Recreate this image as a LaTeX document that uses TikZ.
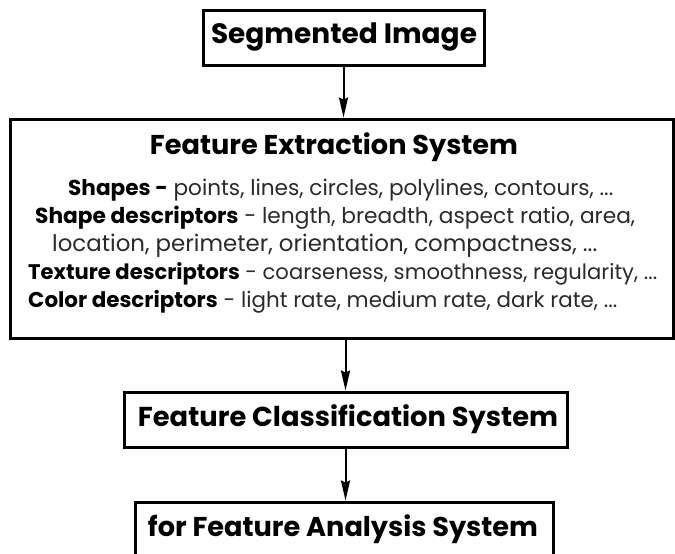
\documentclass[tikz,border=0pt]{standalone}
\usepackage{fontspec}
\setmainfont{Poppins}
\usetikzlibrary{arrows.meta}
\definecolor{bodytext}{HTML}{2A2A2A}
\newcommand{\fitw}[2]{\resizebox{#1}{!}{#2}}
\begin{document}
\begin{tikzpicture}[x=1pt,y=-1pt,
  box/.style={draw, line width=3pt, inner sep=0pt},
  label/.style={inner sep=0pt, text=black},
  line/.style={inner sep=0pt, anchor=west, text=bodytext},
  flow/.style={line width=2pt, -{Stealth[length=20pt,width=9pt,inset=2pt]}}]
\useasboundingbox (0,0) rectangle (675,554);
\fill[white] (0,0) rectangle (675,554);

% boxes
\node[box, minimum width=281pt, minimum height=55pt] (seg) at (343.5,37.5) {};
\node[box, minimum width=663pt, minimum height=219pt] (fes) at (341.5,228.5) {};
\node[box, minimum width=443pt, minimum height=55pt] (fcs) at (345.5,419.5) {};
\node[box, minimum width=418pt, minimum height=55pt] (fas) at (344,529.5) {};

% box titles
\node[label] (tseg) at (344,37) {\fitw{266pt}{\bfseries Segmented Image}};
\node[label] (tfes) at (334,147) {\fitw{368pt}{\bfseries Feature Extraction System}};
\node[label] (tfcs) at (348,419) {\fitw{420pt}{\bfseries Feature Classification System}};
\node[label] (tfas) at (343,529) {\fitw{390pt}{\bfseries for Feature Analysis System}};

% feature list
\node[line] (l1) at (68,190) {\fitw{545pt}{\textbf{\color{black}Shapes -} points, lines, circles, polylines, contours, ...}};
\node[line] (l2) at (35,218) {\fitw{600pt}{\textbf{\color{black}Shape descriptors} - length, breadth, aspect ratio, area,}};
\node[line] (l3) at (52,246) {\fitw{545pt}{location, perimeter, orientation, compactness, ...}};
\node[line] (l4) at (28,274) {\fitw{629pt}{\textbf{\color{black}Texture descriptors} - coarseness, smoothness, regularity, ...}};
\node[line] (l5) at (28,302) {\fitw{589pt}{\textbf{\color{black}Color descriptors} - light rate, medium rate, dark rate, ...}};

% connectors
\draw[flow] (seg.south) -- (seg.south |- fes.north);
\draw[flow] (fcs.north |- fes.south) -- (fcs.north);
\draw[flow] (fcs.south) -- (fcs.south |- fas.north);
\end{tikzpicture}
\end{document}
